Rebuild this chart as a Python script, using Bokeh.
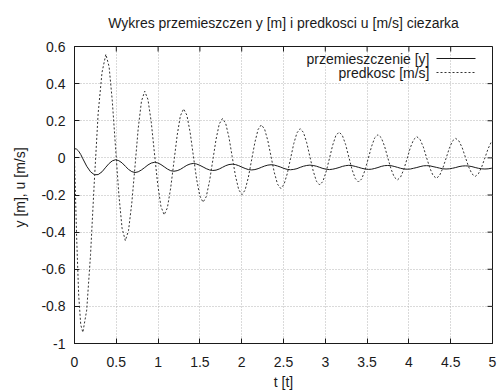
import math
from bokeh.plotting import figure
from bokeh.models import FixedTicker, Label, Arrow, ColumnDataSource, Range1d, Title
from bokeh.embed import file_html
from bokeh.resources import INLINE

# ---- data ----
t = [0.000, 0.025, 0.050, 0.075, 0.100, 0.146, 0.192, 0.238, 0.283, 0.329,
     0.375, 0.414, 0.452, 0.491, 0.530, 0.569, 0.608, 0.646, 0.685, 0.724,
     0.762, 0.801, 0.840, 0.879, 0.918, 0.956, 0.995, 1.034, 1.073, 1.111,
     1.150, 1.189, 1.228, 1.266, 1.305, 1.344, 1.383, 1.421, 1.460, 1.499,
     1.538, 1.576, 1.615, 1.654, 1.693, 1.731, 1.770, 1.809, 1.848, 1.886,
     1.925, 1.964, 2.003, 2.041, 2.080, 2.119, 2.158, 2.196, 2.235, 2.274,
     2.313, 2.351, 2.390, 2.429, 2.468, 2.506, 2.545, 2.584, 2.623, 2.661,
     2.700, 2.739, 2.778, 2.816, 2.855, 2.894, 2.933, 2.971, 3.010, 3.049,
     3.088, 3.126, 3.165, 3.204, 3.243, 3.281, 3.320, 3.359, 3.398, 3.436,
     3.475, 3.514, 3.553, 3.591, 3.630, 3.669, 3.708, 3.746, 3.785, 3.824,
     3.863, 3.901, 3.940, 3.979, 4.018, 4.056, 4.095, 4.134, 4.173, 4.211,
     4.250, 4.289, 4.328, 4.366, 4.405, 4.444, 4.483, 4.521, 4.560, 4.599,
     4.638, 4.676, 4.715, 4.754, 4.793, 4.831, 4.870, 4.909, 4.948, 4.986,
     5.000]

velocity = [0.000, -0.420, -0.740, -0.900, -0.940, -0.820, -0.520, -0.120, 0.240, 0.460,
            0.558, 0.491, 0.307, 0.056, -0.195, -0.379, -0.446, -0.392, -0.245, -0.044,
            0.158, 0.305, 0.359, 0.314, 0.193, 0.026, -0.141, -0.262, -0.307, -0.269,
            -0.164, -0.022, 0.121, 0.226, 0.264, 0.230, 0.138, 0.013, -0.113, -0.205,
            -0.239, -0.209, -0.126, -0.014, 0.099, 0.182, 0.212, 0.185, 0.110, 0.007,
            -0.096, -0.171, -0.198, -0.173, -0.104, -0.010, 0.084, 0.153, 0.178, 0.155,
            0.092, 0.007, -0.079, -0.142, -0.165, -0.143, -0.085, -0.004, 0.077, 0.135,
            0.157, 0.137, 0.081, 0.006, -0.070, -0.126, -0.146, -0.127, -0.075, -0.004,
            0.068, 0.120, 0.139, 0.121, 0.072, 0.005, -0.063, -0.112, -0.130, -0.113,
            -0.066, -0.003, 0.061, 0.108, 0.125, 0.109, 0.064, 0.003, -0.058, -0.103,
            -0.119, -0.103, -0.061, -0.003, 0.056, 0.098, 0.114, 0.099, 0.058, 0.002,
            -0.054, -0.095, -0.110, -0.096, -0.056, -0.003, 0.051, 0.091, 0.105, 0.091,
            0.054, 0.003, -0.049, -0.086, -0.100, -0.086, -0.050, 0.000, 0.050, 0.086,
            0.094]

displacement = [0.050, 0.047, 0.036, 0.018, -0.005, -0.045, -0.075, -0.091, -0.090, -0.075,
                -0.050, -0.030, -0.016, -0.010, -0.015, -0.027, -0.045, -0.062, -0.074, -0.079,
                -0.075, -0.065, -0.052, -0.038, -0.028, -0.024, -0.027, -0.036, -0.048, -0.060,
                -0.069, -0.072, -0.069, -0.062, -0.051, -0.040, -0.033, -0.030, -0.033, -0.040,
                -0.049, -0.058, -0.065, -0.068, -0.066, -0.060, -0.051, -0.042, -0.036, -0.034,
                -0.036, -0.042, -0.050, -0.057, -0.063, -0.065, -0.063, -0.058, -0.051, -0.044,
                -0.039, -0.037, -0.039, -0.044, -0.050, -0.057, -0.062, -0.064, -0.062, -0.058,
                -0.051, -0.045, -0.041, -0.039, -0.041, -0.045, -0.051, -0.057, -0.061, -0.063,
                -0.061, -0.057, -0.052, -0.046, -0.042, -0.040, -0.042, -0.046, -0.051, -0.056,
                -0.060, -0.062, -0.061, -0.057, -0.052, -0.046, -0.042, -0.041, -0.042, -0.046,
                -0.051, -0.056, -0.060, -0.061, -0.060, -0.056, -0.052, -0.047, -0.043, -0.042,
                -0.043, -0.047, -0.051, -0.055, -0.059, -0.060, -0.059, -0.056, -0.052, -0.047,
                -0.044, -0.043, -0.044, -0.047, -0.052, -0.056, -0.059, -0.060, -0.059, -0.056,
                -0.055]

series_names = ["przemieszczenie [y]", "predkosc [m/s]"]

x_ticks = [0, 0.5, 1, 1.5, 2, 2.5, 3, 3.5, 4, 4.5, 5]
x_tick_labels = ["0", "0.5", "1", "1.5", "2", "2.5", "3", "3.5", "4", "4.5", "5"]
y_ticks = [-1, -0.8, -0.6, -0.4, -0.2, 0, 0.2, 0.4, 0.6]
y_tick_labels = ["-1", "-0.8", "-0.6", "-0.4", "-0.2", "0", "0.2", "0.4", "0.6"]

title_text = "Wykres przemieszczen y [m] i predkosci u [m/s] ciezarka"
x_label = "t [t]"
y_label = "y [m], u [m/s]"

# ---- styling ----
FONT = "Liberation Sans"
FS = "14px"
INK = "#1a1a1a"
DOT = "#333333"

src = ColumnDataSource(dict(t=t, y=displacement, u=velocity))

p = figure(width=498, height=392, x_range=Range1d(0, 5), y_range=Range1d(-1, 0.6),
           output_backend="svg", toolbar_location=None,
           min_border_left=74, min_border_right=6, min_border_top=46, min_border_bottom=49)
p.background_fill_color = "white"
p.border_fill_color = "white"
p.outline_line_color = INK
p.outline_line_width = 1

p.title.text = title_text
p.title.align = "center"
p.title.vertical_align = "top"
p.title.standoff = 28
p.title.text_font = FONT
p.title.text_font_size = FS
p.title.text_font_style = "normal"
p.title.text_color = INK

def style_axis(ax, ticks, labels):
    ax.ticker = FixedTicker(ticks=ticks)
    ax.major_label_overrides = {tk: lb for tk, lb in zip(ticks, labels)}
    ax.major_tick_in = 5
    ax.major_tick_out = 0
    ax.minor_tick_in = 0
    ax.minor_tick_out = 0
    ax.axis_line_color = INK
    ax.major_tick_line_color = INK
    ax.major_label_text_font = FONT
    ax.major_label_text_color = INK
    ax.major_label_text_font_size = FS

style_axis(p.xaxis[0], x_ticks, x_tick_labels)
style_axis(p.yaxis[0], y_ticks, y_tick_labels)
p.xaxis[0].major_label_standoff = 13
p.yaxis[0].major_label_standoff = 9
p.xaxis[0].axis_label = x_label
p.xaxis[0].axis_label_text_font = FONT
p.xaxis[0].axis_label_text_font_size = FS
p.xaxis[0].axis_label_text_font_style = "normal"
p.xaxis[0].axis_label_text_color = INK
p.xaxis[0].axis_label_standoff = 4

# y-axis label as a vertical title in the left border, placed like the reference
p.add_layout(Title(text=y_label, align="left", vertical_align="middle", offset=116, standoff=19,
                   text_font=FONT, text_font_size=FS, text_font_style="normal",
                   text_color=INK), "left")

# mirrored inward ticks on the top and right edges (gnuplot style)
p.ray(x=x_ticks, y=[p.y_range.end] * len(x_ticks), length=5, length_units="screen",
      angle=-math.pi / 2, line_color=INK, line_width=1)
p.ray(x=[p.x_range.end] * len(y_ticks), y=y_ticks, length=5, length_units="screen",
      angle=math.pi, line_color=INK, line_width=1)

for g in (p.xgrid[0], p.ygrid[0]):
    g.grid_line_color = "#b4b4b4"
    g.grid_line_dash = "1 2"
    g.grid_line_width = 1
p.xgrid[0].ticker = FixedTicker(ticks=x_ticks)
p.ygrid[0].ticker = FixedTicker(ticks=y_ticks)

p.line("t", "y", source=src, line_color=INK, line_width=1)
p.line("t", "u", source=src, line_color=DOT, line_width=1, line_dash="2 2")

# legend in gnuplot style: text right-aligned, sample line on the right
legend_rows = [(285, None), (271, "2 2")]
for name, (ly, dash) in zip(series_names, legend_rows):
    p.add_layout(Label(x=355, y=ly, x_units="screen", y_units="screen", text=name,
                       text_align="right", text_baseline="middle",
                       text_font=FONT, text_font_size=FS, text_color=INK))
    kw = dict(x_start=362, x_end=401, y_start=ly, y_end=ly,
              start_units="screen", end_units="screen", end=None,
              line_color=INK if dash is None else DOT, line_width=1)
    if dash is not None:
        kw["line_dash"] = dash
    p.add_layout(Arrow(**kw))

open("out.html", "w").write(file_html(p, INLINE))
